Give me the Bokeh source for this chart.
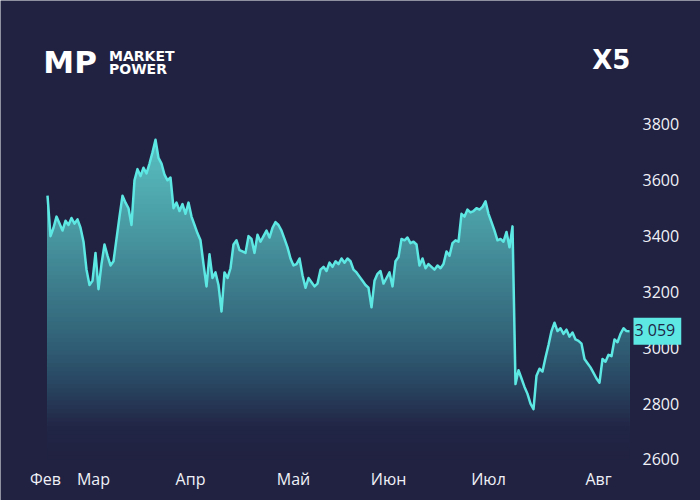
import numpy as np
from bokeh.plotting import figure
from bokeh.models import Range1d, FixedTicker, Label
from bokeh.embed import file_html
from bokeh.resources import INLINE

# --- data (X5 share price, one sample per step) ---
prices = [
    3545, 3400, 3430, 3470, 3445, 3420, 3455, 3440, 3465, 3445,
    3460, 3430, 3380, 3280, 3225, 3240, 3340, 3210, 3300, 3370,
    3330, 3295, 3310, 3390, 3470, 3545, 3520, 3500, 3440, 3600,
    3640, 3615, 3645, 3625, 3660, 3700, 3745, 3680, 3660, 3620,
    3600, 3610, 3500, 3520, 3490, 3515, 3480, 3520, 3470, 3440,
    3410, 3385, 3300, 3220, 3335, 3250, 3270, 3225, 3130, 3270,
    3250, 3285, 3370, 3385, 3350, 3345, 3340, 3400, 3390, 3340,
    3405, 3380, 3400, 3420, 3395, 3430, 3450, 3440, 3420, 3390,
    3360, 3320, 3295, 3300, 3320, 3260, 3215, 3250, 3235, 3220,
    3230, 3280, 3290, 3275, 3305, 3290, 3310, 3300, 3320, 3305,
    3320, 3310, 3280, 3270, 3255, 3240, 3225, 3215, 3145, 3240,
    3265, 3275, 3230, 3250, 3270, 3220, 3310, 3325, 3390, 3385,
    3395, 3375, 3380, 3370, 3295, 3320, 3285, 3300, 3290, 3280,
    3295, 3285, 3300, 3345, 3330, 3375, 3385, 3380, 3480, 3470,
    3495, 3485, 3490, 3500, 3495, 3505, 3525, 3480, 3450, 3420,
    3385, 3390, 3380, 3415, 3360, 3435, 2870, 2920, 2890, 2860,
    2835, 2800, 2780, 2900, 2925, 2915, 2965, 3010, 3060, 3090,
    3060, 3070, 3050, 3065, 3040, 3055, 3030, 3025, 3015, 2960,
    2945, 2930, 2910, 2890, 2875, 2960, 2950, 2975, 2970, 3030,
    3020, 3050, 3070, 3060, 3059,
]
month_labels = ["Фев", "Мар", "Апр", "Май", "Июн", "Июл", "Авг"]
month_pos = [-0.67, 15.33, 47.67, 82.0, 113.67, 147.0, 183.67]
y_ticks = [2600, 2800, 3000, 3200, 3400, 3600, 3800]
ticker_name = "X5"
last_label = "3 059"

BG = "#212242"
LINE = "#5ee8e4"
FONT = "Open Sans"
LOGO_FONT = "DejaVu Sans"

y = np.array(prices, dtype=float)
x = np.arange(len(y))

p = figure(width=700, height=500, output_backend="svg", toolbar_location=None,
           x_range=Range1d(-47 / 3, 700 / 3 - 47 / 3),
           y_range=Range1d(2453.1, 4244),
           min_border=0, y_axis_location="right")
p.background_fill_color = BG
p.border_fill_color = BG
p.outline_line_color = None
p.grid.visible = False

# gradient fill via stacked bands
stops_v = [2600, 2720, 2850, 3000, 3200, 3400, 3600, 3800]
stops_c = [(33, 34, 66), (34, 38, 70), (40, 66, 94), (48, 94, 116),
           (60, 122, 138), (72, 150, 160), (82, 176, 180), (92, 196, 196)]
levels = np.arange(3800, 2600, -15)
for hi in levels:
    mid = hi - 7.5
    c = [int(np.interp(mid, stops_v, [s[k] for s in stops_c])) for k in range(3)]
    col = "#%02x%02x%02x" % tuple(c)
    p.varea(x=x, y1=np.full_like(y, 2600), y2=np.minimum(y, hi), fill_color=col)

p.line(x, y, line_color=LINE, line_width=2.5, line_join="round")

# axes (drawn inside the frame at fixed locations)
xa = p.xaxis[0]
xa.ticker = FixedTicker(ticks=month_pos)
xa.major_label_overrides = {v: t for v, t in zip(month_pos, month_labels)}
xa.fixed_location = 2600
ya = p.yaxis[0]
ya.ticker = FixedTicker(ticks=y_ticks)
ya.fixed_location = (630 - 47) / 3
for ax in (xa, ya):
    ax.axis_line_color = None
    ax.major_tick_line_color = None
    ax.minor_tick_line_color = None
    ax.major_label_text_color = "#f0f1f7"
    ax.major_label_text_font = FONT
    ax.major_label_text_font_size = "16px"
xa.major_label_standoff = 3
ya.major_label_standoff = 6

# logo & title
p.add_layout(Label(x=-1.4, y=4024, text="MP", text_font=LOGO_FONT, text_font_style="bold",
                   text_font_size="31px", text_color="white", text_baseline="alphabetic"))
p.add_layout(Label(x=20.5, y=4046, text="MARKET", text_font=LOGO_FONT, text_font_style="bold",
                   text_font_size="14px", text_color="white", text_baseline="alphabetic"))
p.add_layout(Label(x=20.5, y=3999, text="POWER", text_font=LOGO_FONT, text_font_style="bold",
                   text_font_size="14px", text_color="white", text_baseline="alphabetic"))
p.add_layout(Label(x=194.3, y=4032, text=ticker_name, text_font=LOGO_FONT, text_font_style="bold",
                   text_font_size="26px", text_color="white", text_align="right",
                   text_baseline="alphabetic"))

# last value tag
p.add_layout(Label(x=x[-1], y=y[-1], x_offset=4, text=last_label, text_font=FONT,
                   text_font_size="16px", text_color="#1f2747", text_baseline="middle",
                   background_fill_color=LINE, padding=[1, 6, 1, 4]))

html = file_html(p, INLINE)
html = html.replace("<body>", '<body style="margin:0;background:#212242">', 1)
open("out.html", "w").write(html)
